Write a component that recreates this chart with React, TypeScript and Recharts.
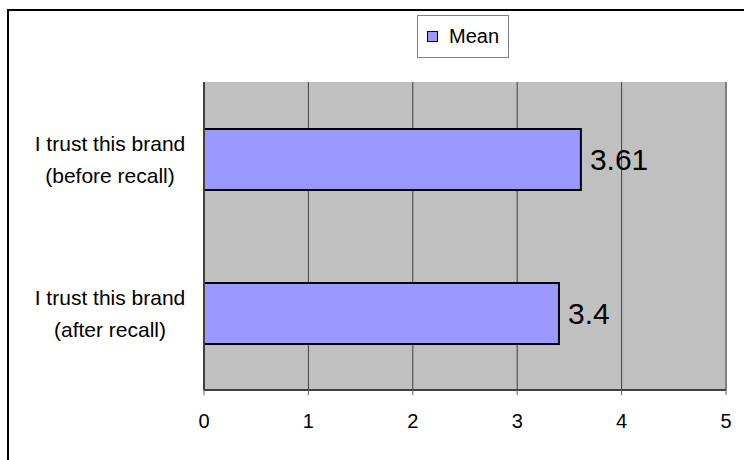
import { Bar, BarChart, CartesianGrid, LabelList, Legend, ReferenceLine, XAxis, YAxis } from "recharts";

const categories = ["I trust this brand\n(before recall)", "I trust this brand\n(after recall)"];
const meanValues = [3.61, 3.4];
const seriesName = "Mean";
const xTicks = [0, 1, 2, 3, 4, 5];
const categoryEdges = [0, 1, 2];

const chartData = categories.map((category, index) => ({
  category,
  mean: meanValues[index],
}));

const font = "Arial, 'Liberation Sans', sans-serif";
const barColor = "#9999FF";

function CategoryTick({ y, payload }: { y?: number; payload?: { value: string } }) {
  const lines = String(payload?.value ?? "").split("\n");
  const top = (y ?? 0) - ((lines.length - 1) * 32) / 2;

  return (
    <text x={110} y={top} textAnchor="middle" fontSize={21} fill="#000" fontFamily={font}>
      {lines.map((line, index) => (
        <tspan key={line} x={110} y={top + index * 32} dy="0.36em">
          {line}
        </tspan>
      ))}
    </text>
  );
}

function LegendBox() {
  return (
    <div
      style={{
        boxSizing: "border-box",
        width: 92,
        height: 43,
        border: "1px solid #808080",
        background: "#fff",
        display: "flex",
        alignItems: "center",
        fontFamily: font,
        fontSize: 20,
        color: "#000",
      }}
    >
      <span
        style={{
          boxSizing: "border-box",
          width: 11,
          height: 11,
          marginLeft: 9,
          background: barColor,
          border: "1.5px solid #000",
        }}
      />
      <span style={{ marginLeft: 11 }}>{seriesName}</span>
    </div>
  );
}

export default function App() {
  return (
    <div
      style={{
        position: "absolute",
        top: 0,
        left: 0,
        width: 744,
        height: 460,
        overflow: "hidden",
        background: "#fff",
        fontFamily: font,
      }}
    >
      <div
        style={{
          position: "absolute",
          top: 9,
          left: 7,
          right: -20,
          bottom: -20,
          borderTop: "2px solid #000",
          borderLeft: "2px solid #000",
        }}
      />
      <div style={{ position: "absolute", top: 0, left: 0 }}>
        <BarChart
          width={744}
          height={460}
          data={chartData}
          layout="vertical"
          margin={{ top: 82, right: 18, bottom: 0, left: 0 }}
        >
          <CartesianGrid horizontal={false} stroke="#404040" fill="#C0C0C0" fillOpacity={1} />
          <XAxis
            type="number"
            domain={[0, 5]}
            ticks={xTicks}
            allowDataOverflow
            height={70}
            tick={{ fill: "#000", fontSize: 20 }}
            tickSize={5}
            tickMargin={19}
            tickLine={{ stroke: "#606060" }}
            axisLine={{ stroke: "#404040", strokeWidth: 2 }}
          />
          <YAxis
            yAxisId="edges"
            type="number"
            domain={[0, 2]}
            ticks={categoryEdges}
            allowDataOverflow
            width={0}
            tick={false}
            tickSize={6}
            tickLine={{ stroke: "#606060" }}
            axisLine={false}
          />
          <YAxis
            type="category"
            dataKey="category"
            width={204}
            tickLine={false}
            axisLine={{ stroke: "#404040", strokeWidth: 2 }}
            tick={<CategoryTick />}
            interval={0}
          />
          <ReferenceLine yAxisId="edges" y={2} stroke="#808080" strokeWidth={1} />
          <ReferenceLine x={5} stroke="#808080" strokeWidth={2} />
          <Legend
            layout="vertical"
            align="center"
            verticalAlign="middle"
            content={<LegendBox />}
            wrapperStyle={{ top: 15, left: 417, width: 92, height: 43 }}
          />
          <Bar
            dataKey="mean"
            name={seriesName}
            fill={barColor}
            stroke="#000"
            strokeWidth={2}
            barSize={61}
            isAnimationActive={false}
          >
            <LabelList dataKey="mean" position="right" offset={9} fontSize={30} fill="#000" />
          </Bar>
        </BarChart>
      </div>
    </div>
  );
}
